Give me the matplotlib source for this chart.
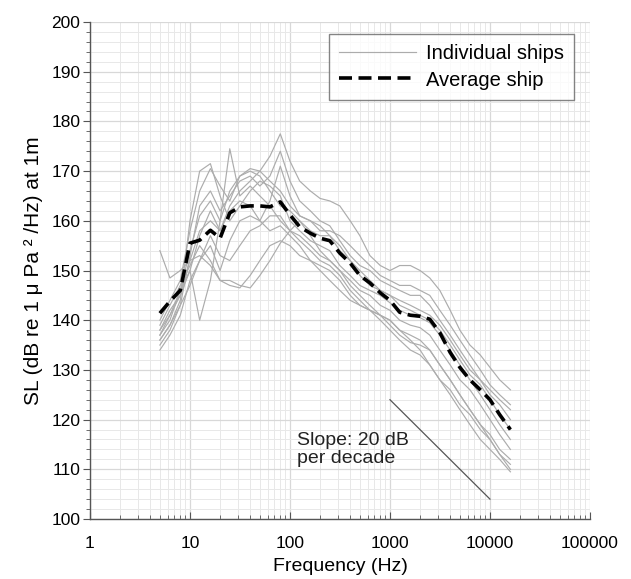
import matplotlib
matplotlib.use("Agg")
import matplotlib.pyplot as plt
from matplotlib.ticker import LogLocator, MultipleLocator, FixedLocator, NullFormatter

plt.rcParams['font.family'] = ['Liberation Sans', 'DejaVu Sans']

# 1/3-octave band centre frequencies (Hz)
freqs = [5, 6.3, 8, 10, 12.5, 16, 20, 25, 31.5, 40, 50, 63, 80, 100, 125, 160,
         200, 250, 315, 400, 500, 630, 800, 1000, 1250, 1600, 2000, 2500, 3150,
         4000, 5000, 6300, 8000, 10000, 12500, 16000]

average_ship = [141.4, 143.8, 146, 155.5, 156.1, 158.1, 156.5, 161.6, 162.8, 163, 163,
                162.8, 163.8, 161.2, 158.8, 157.5, 156.5, 156, 153.5, 151.5, 149,
                147.5, 145.5, 144, 141.6, 141, 140.8, 140.2, 137.5, 133.5, 130.5,
                128, 126, 124, 121, 118]

ship_1 = [138, 142, 145, 152, 158, 160, 158, 163, 166, 168, 170, 173, 177.5, 172, 168,
          166, 164.5, 164, 163, 160, 157, 153, 151, 150, 151, 151, 150, 148.5, 146,
          142, 138, 135, 133, 130.5, 128, 126]
ship_2 = [136, 139, 144, 160, 170, 171.5, 165, 160, 163, 166, 168, 167, 165, 160, 158,
          156, 155, 154, 151, 149, 147, 146, 145, 143.5, 142, 141, 140.5, 139.5, 137,
          134, 131, 128, 125, 122, 119, 116]
ship_3 = [137, 140, 146, 150, 140, 148, 160, 174.5, 165, 167, 165, 163, 160, 158, 157,
          155, 153, 152, 150, 148, 146, 145, 143, 142, 140, 139, 138.5, 137, 134,
          131, 128, 126, 123, 120, 117, 114]
ship_4 = [154, 148.5, 150, 152, 153, 151, 148, 147, 146.5, 149, 152, 155, 156, 155, 153,
          152, 150, 148, 146, 144, 143, 142, 141, 140, 138, 137, 136, 134, 131, 128,
          125, 122, 119, 116, 113, 110]
ship_5 = [135, 138, 143, 153, 163, 166, 162, 165, 168, 169, 167, 169, 174, 168, 164,
          162, 160, 159, 156, 153, 151, 150, 148, 147, 146, 145, 145, 143, 140, 137,
          134, 131, 128, 126, 124, 122]
ship_6 = [139, 143, 147, 151, 155, 152, 148, 148, 147, 146.5, 149, 152, 155.5, 158, 160,
          157, 154, 152, 150, 147, 145, 143, 141, 139, 137, 135.5, 135, 134, 131, 128,
          125, 122, 119, 117, 114, 112]
ship_7 = [140, 144, 148, 158, 166, 170.5, 167, 164, 169, 170, 169, 166, 163, 162, 160,
          158, 157, 157, 155, 152, 150, 148, 146, 145, 143, 142, 141, 140, 138, 135,
          132, 129, 127, 124, 121, 118]
ship_8 = [138, 141, 145, 150, 157, 162, 158, 162, 164, 163, 160, 164, 171, 165, 161,
          160, 159, 157, 154, 152, 149, 147, 146, 145, 144, 143, 142, 141, 139, 136,
          133, 130, 128, 125, 123, 120]
ship_9 = [134, 137, 141, 148, 152, 155, 150, 156, 160, 161, 160, 158, 159, 157, 155,
          152, 151, 150, 148, 145, 143, 142, 141, 140, 138, 136, 134, 131, 128, 125,
          122, 119, 116, 114, 112, 109.5]
ship_10 = [137, 141, 146, 154, 161, 164, 160, 166, 169, 170.5, 170, 168, 166, 163, 161,
           160, 158, 158, 157, 155, 153, 151, 149, 148, 147, 147, 146, 145, 142, 139,
           136, 133, 130, 127, 125, 123]
ship_11 = [136, 139, 143, 147, 152, 157, 153, 152, 155, 158, 159, 161, 161, 158, 156,
           154, 152, 151, 149, 146, 144, 142, 140, 138, 136, 134, 133, 131, 128, 126,
           123, 121, 118, 116, 113, 111]

ships = [ship_1, ship_2, ship_3, ship_4, ship_5, ship_6, ship_7, ship_8, ship_9,
         ship_10, ship_11]

slope_freqs = [1000, 10000]
slope_levels = [124, 104]

x_ticks = [1, 10, 100, 1000, 10000, 100000]
x_ticklabels = ['1', '10', '100', '1000', '10000', '100000']
y_ticks = [100, 110, 120, 130, 140, 150, 160, 170, 180, 190, 200]

fig = plt.figure(figsize=(6.31, 5.79), dpi=100)
ax = fig.add_axes([0.1426, 0.1036, 0.7924, 0.8584])

for i, s in enumerate(ships):
    ax.plot(freqs, s, color='#acacac', lw=0.85,
            label='Individual ships' if i == 0 else None, zorder=2)
ax.plot(freqs, average_ship, color='black', lw=2.6, dashes=(3.6, 1.8),
        label='Average ship', zorder=3)
ax.plot(slope_freqs, slope_levels, color='#555555', lw=0.9, zorder=2)
ax.text(117, 114.0, 'Slope: 20 dB\nper decade', fontsize=14, va='center',
        ha='left', linespacing=1.1, color='#222222')

ax.set_xscale('log')
ax.set_xlim(1, 100000)
ax.set_ylim(100, 200)
ax.xaxis.set_major_locator(FixedLocator(x_ticks))
ax.set_xticklabels(x_ticklabels)
ax.xaxis.set_minor_locator(LogLocator(base=10, subs=range(2, 10), numticks=20))
ax.xaxis.set_minor_formatter(NullFormatter())
ax.set_yticks(y_ticks)
ax.yaxis.set_minor_locator(MultipleLocator(2))

ax.grid(True, which='major', color='#d8d8d8', lw=0.9)
ax.grid(True, which='minor', color='#e8e8e8', lw=0.7)
ax.set_axisbelow(True)

for side in ['top', 'right']:
    ax.spines[side].set_visible(False)
for side in ['left', 'bottom']:
    ax.spines[side].set_color('#555555')
    ax.spines[side].set_linewidth(1.0)

ax.tick_params(axis='y', which='major', direction='out', length=5, labelsize=12.5,
               color='#555555', pad=2)
ax.tick_params(axis='y', which='minor', direction='out', length=3, color='#555555')
ax.tick_params(axis='x', which='major', direction='in', length=5, labelsize=12.5,
               color='#555555', pad=12)
ax.tick_params(axis='x', which='minor', direction='in', length=3, color='#555555')

ax.set_xlabel('Frequency (Hz)', fontsize=14, labelpad=5)
ax.set_ylabel('SL (dB re 1 \u03bc Pa \u00b2 /Hz) at 1m', fontsize=15, labelpad=6)

leg = ax.legend(loc='upper right', bbox_to_anchor=(0.968, 0.975), fontsize=14.5,
                frameon=True, fancybox=False, edgecolor='#666666',
                handlelength=3.8, handletextpad=0.5, borderpad=0.5,
                labelspacing=0.35, borderaxespad=0)
leg.get_frame().set_linewidth(1.0)

fig.savefig('out.png', dpi=100, facecolor='white')
